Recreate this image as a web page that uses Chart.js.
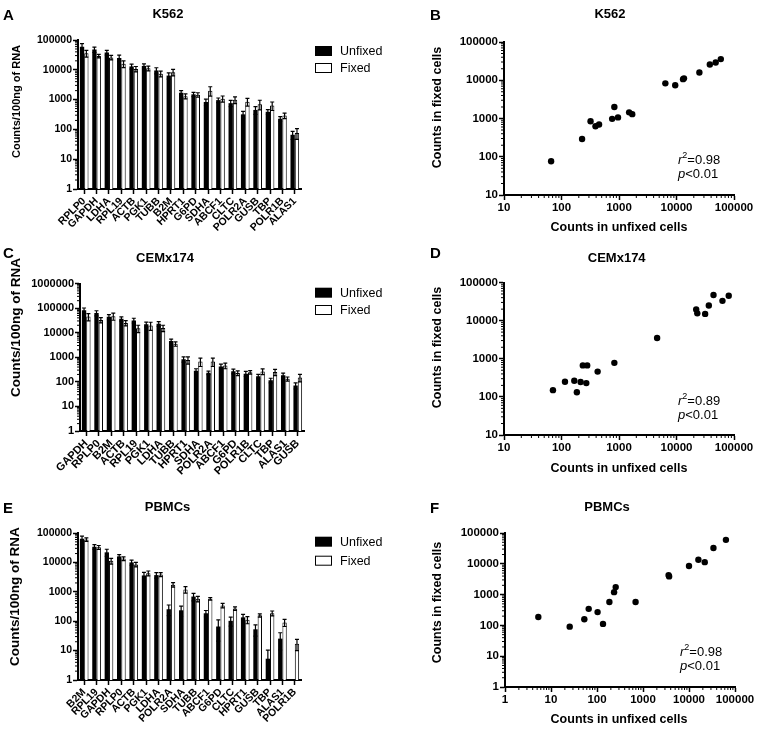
<!DOCTYPE html>
<html>
<head>
<meta charset="utf-8">
<script src="https://cdn.jsdelivr.net/npm/chart.js@4.4.0/dist/chart.umd.min.js"></script>
<style>
html, body { margin: 0; padding: 0; background: #fff; }
#fig { position: relative; width: 758px; height: 729px; overflow: hidden; }
#fig canvas { position: absolute; }
</style>
</head>
<body>
<div id="fig">
    <canvas id="chartA" width="392" height="240" style="left:0;top:0"></canvas>
    <canvas id="chartB" width="378" height="240" style="left:380px;top:0"></canvas>
    <canvas id="chartC" width="392" height="240" style="left:0;top:240px"></canvas>
    <canvas id="chartD" width="378" height="240" style="left:380px;top:240px"></canvas>
    <canvas id="chartE" width="392" height="249" style="left:0;top:480px"></canvas>
    <canvas id="chartF" width="378" height="249" style="left:380px;top:480px"></canvas>
</div>
<script>
// ---- data (counts / 100ng of RNA) ----
var seriesNames = ['Unfixed', 'Fixed'];

var genesK562 = ['RPLP0', 'GAPDH', 'LDHA', 'RPL19', 'ACTB', 'PGK1', 'TUBB', 'B2M', 'HPRT1', 'G6PD', 'SDHA', 'ABCF1', 'CLTC', 'POLR2A', 'GUSB', 'TBP', 'POLR1B', 'ALAS1'];
var unfixedK562 = [59000, 48000, 38000, 25000, 13000, 13500, 9500, 6400, 1700, 1500, 830, 960, 760, 320, 450, 390, 228, 66];
var fixedK562 = [35700, 29000, 25900, 15900, 10700, 11200, 7400, 8300, 1300, 1450, 2000, 1070, 980, 850, 700, 630, 290, 76];
var errUnfixedK562 = [17000, 10000, 7000, 6000, 2500, 2300, 2200, 1500, 300, 250, 200, 170, 180, 80, 130, 70, 40, 20];
var errFixedK562 = [9000, 4000, 4500, 4000, 2200, 2000, 1600, 2000, 250, 250, 700, 250, 250, 250, 250, 200, 60, 30];

var genesCEM = ['GAPDH', 'RPLP0', 'B2M', 'ACTB', 'RPL19', 'PGK1', 'LDHA', 'TUBB', 'HPRT1', 'SDHA', 'POLR2A', 'ABCF1', 'G6PD', 'POLR1B', 'CLTC', 'TBP', 'ALAS1', 'GUSB'];
var unfixedCEM = [81000, 63000, 44000, 36500, 31500, 22000, 23000, 4600, 830, 280, 235, 425, 270, 215, 167, 115, 185, 71];
var fixedCEM = [45000, 33000, 47000, 25000, 15000, 19500, 15500, 3500, 780, 670, 670, 460, 230, 245, 265, 250, 132, 150];
var errUnfixedCEM = [20000, 15000, 10000, 7000, 7000, 5000, 5000, 900, 200, 60, 40, 100, 60, 50, 35, 25, 40, 20];
var errFixedCEM = [15000, 8000, 15000, 6000, 5000, 7000, 4500, 700, 250, 250, 250, 120, 50, 40, 70, 70, 25, 50];

var genesPBMC = ['B2M', 'RPL19', 'GAPDH', 'RPLP0', 'ACTB', 'PGK1', 'LDHA', 'POLR2A', 'SDHA', 'TUBB', 'ABCF1', 'G6PD', 'CLTC', 'HPRT1', 'GUSB', 'TBP', 'ALAS1', 'POLR1B'];
var unfixedPBMC = [63500, 34000, 22000, 16000, 10000, 3600, 3700, 255, 235, 690, 186, 66, 103, 135, 53, 5.3, 25.5, null];
var fixedPBMC = [60000, 32500, 11300, 13500, 8500, 4300, 3900, 1750, 1200, 575, 575, 345, 270, 112, 158, 187, 91, 17];
var errUnfixedPBMC = [15000, 6000, 6000, 2500, 2000, 1000, 800, 100, 90, 200, 45, 45, 35, 35, 22, 5, 15, null];
var errFixedPBMC = [8000, 5000, 2500, 2000, 1500, 800, 600, 300, 300, 120, 60, 60, 35, 30, 20, 35, 25, 7];

var ticksK562 = [1, 10, 100, 1000, 10000, 100000];
var ticksCEM = [1, 10, 100, 1000, 10000, 100000, 1000000];
var ticksPBMC = [1, 10, 100, 1000, 10000, 100000];
var ticksFrom10 = [10, 100, 1000, 10000, 100000];
var ticksFrom1 = [1, 10, 100, 1000, 10000, 100000];

var r2Values = ['0.98', '0.89', '0.98'];
var pValues = ['0.01', '0.01', '0.01'];

// ---- drawing ----
var FONT = "'Liberation Sans', Arial, Helvetica, sans-serif";
Chart.defaults.font.family = FONT;
Chart.defaults.color = '#000';
Chart.defaults.animation = false;

// minor ticks on log axes
var minorTicks = {
    id: 'minorTicks',
    afterDraw: function (chart) {
        var ctx = chart.ctx, area = chart.chartArea;
        ctx.save();
        ctx.strokeStyle = '#000';
        ctx.lineWidth = 1;
        Object.values(chart.scales).forEach(function (s) {
            if (s.type !== 'logarithmic') return;
            for (var d = s.min; d < s.max; d *= 10) {
                for (var k = 2; k < 10; k++) {
                    var p = s.getPixelForValue(d * k);
                    ctx.beginPath();
                    if (s.isHorizontal()) {
                        ctx.moveTo(p, area.bottom);
                        ctx.lineTo(p, area.bottom + 3);
                    } else {
                        ctx.moveTo(area.left, p);
                        ctx.lineTo(area.left - 3, p);
                    }
                    ctx.stroke();
                }
            }
        });
        ctx.restore();
    }
};

var errorBars = {
    id: 'errorBars',
    afterDatasetsDraw: function (chart) {
        var ctx = chart.ctx, yScale = chart.scales.y;
        ctx.save();
        ctx.strokeStyle = '#000';
        ctx.lineWidth = 1.2;
        chart.data.datasets.forEach(function (ds, i) {
            if (!ds.errors) return;
            chart.getDatasetMeta(i).data.forEach(function (bar, j) {
                var v = ds.data[j], e = ds.errors[j];
                if (v == null || e == null) return;
                var top = yScale.getPixelForValue(v + e);
                var low = yScale.getPixelForValue(Math.max(v - e, yScale.min));
                var x = bar.x, c = 2;
                ctx.beginPath();
                ctx.moveTo(x, top); ctx.lineTo(x, low);
                ctx.moveTo(x - c, top); ctx.lineTo(x + c, top);
                ctx.moveTo(x - c, low); ctx.lineTo(x + c, low);
                ctx.stroke();
            });
        });
        ctx.restore();
    }
};

// panel letter, titles, legend and stats
var panelText = {
    id: 'panelText',
    afterDraw: function (chart, args, o) {
        var ctx = chart.ctx;
        ctx.save();
        ctx.fillStyle = '#000';
        ctx.textAlign = 'left';
        ctx.textBaseline = 'alphabetic';
        ctx.font = 'bold 15px ' + FONT;
        ctx.fillText(o.letter, o.letterX, o.letterY);

        ctx.textAlign = 'center';
        ctx.textBaseline = 'middle';
        ctx.font = 'bold 13px ' + FONT;
        ctx.fillText(o.title, o.titleX, o.titleY);

        ctx.save();
        ctx.translate(o.yTitleX, o.yTitleY);
        ctx.rotate(-Math.PI / 2);
        ctx.font = 'bold ' + o.yTitleSize + 'px ' + FONT;
        ctx.fillText(o.yTitle, 0, 0);
        ctx.restore();

        if (o.xTitle) {
            ctx.font = 'bold 12.5px ' + FONT;
            ctx.fillText(o.xTitle, o.xTitleX, o.xTitleY);
        }

        if (o.legend) {
            ctx.textAlign = 'left';
            ctx.font = '12.5px ' + FONT;
            ctx.fillRect(o.legendX, o.legendY1, 17, 10);
            ctx.fillStyle = '#fff';
            ctx.fillRect(o.legendX, o.legendY2, 17, 10);
            ctx.strokeStyle = '#000';
            ctx.lineWidth = 1;
            ctx.strokeRect(o.legendX + 0.5, o.legendY2 + 0.5, 16, 9);
            ctx.fillStyle = '#000';
            ctx.fillText(seriesNames[0], o.legendX + 25, o.legendY1 + 5.5);
            ctx.fillText(seriesNames[1], o.legendX + 25, o.legendY2 + 5.5);
        }

        if (o.r2) {
            ctx.textAlign = 'left';
            var x = o.statX;
            ctx.font = 'italic 13px ' + FONT;
            ctx.fillText('r', x, o.statY1);
            x += ctx.measureText('r').width;
            ctx.font = '9px ' + FONT;
            ctx.fillText('2', x, o.statY1 - 4);
            x += ctx.measureText('2').width;
            ctx.font = '13px ' + FONT;
            ctx.fillText('=' + o.r2, x, o.statY1);
            x = o.statX;
            ctx.font = 'italic 13px ' + FONT;
            ctx.fillText('p', x, o.statY2);
            x += ctx.measureText('p').width;
            ctx.font = '13px ' + FONT;
            ctx.fillText('<' + o.p, x, o.statY2);
        }
        ctx.restore();
    }
};

function axisStyle(size) {
    return {
        grid: { display: true, drawOnChartArea: false, offset: false, tickLength: 5, tickWidth: 1.5, tickColor: '#000' },
        border: { display: true, color: '#000', width: 2 },
        ticks: { padding: 1, color: '#000', font: { size: size, weight: 'bold' } }
    };
}

function logAxis(tickValues, size, extra) {
    var a = axisStyle(size);
    a.type = 'logarithmic';
    a.min = tickValues[0];
    a.max = tickValues[tickValues.length - 1];
    a.afterBuildTicks = function (s) {
        s.ticks = tickValues.map(function (v) { return { value: v }; });
    };
    a.ticks.callback = function (v) { return String(v); };
    return Object.assign(a, extra);
}

function barChart(id, genes, unfixed, fixed, errU, errF, yTicks, area, text) {
    var canvas = document.getElementById(id);
    var x = axisStyle(text.tickSize);
    x.ticks.autoSkip = false;
    x.ticks.minRotation = 45;
    x.ticks.maxRotation = 45;
    x.afterFit = function (s) { s.height = canvas.height - area.bottom; };
    var y = logAxis(yTicks, text.tickSize, {
        afterFit: function (s) { s.width = area.left; }
    });
    return new Chart(canvas, {
        type: 'bar',
        data: {
            labels: genes,
            datasets: [
                { label: seriesNames[0], data: unfixed, errors: errU, backgroundColor: '#000', borderWidth: 0 },
                { label: seriesNames[1], data: fixed, errors: errF, backgroundColor: '#fff', borderColor: '#000', borderWidth: 1 }
            ]
        },
        options: {
            responsive: false,
            events: [],
            layout: { padding: { top: area.top, right: canvas.width - area.right, bottom: 0, left: 0 } },
            datasets: { bar: { categoryPercentage: 0.7, barPercentage: 1 } },
            scales: { x: x, y: y },
            plugins: { legend: { display: false }, tooltip: { enabled: false }, panelText: text }
        },
        plugins: [errorBars, minorTicks, panelText]
    });
}

function scatterChart(id, unfixed, fixed, xTicks, yTicks, area, text) {
    var canvas = document.getElementById(id);
    var points = [];
    for (var i = 0; i < unfixed.length; i++) {
        if (unfixed[i] != null && fixed[i] != null) points.push({ x: unfixed[i], y: fixed[i] });
    }
    return new Chart(canvas, {
        type: 'scatter',
        data: {
            datasets: [{ data: points, pointRadius: 3.2, backgroundColor: '#000', borderWidth: 0 }]
        },
        options: {
            responsive: false,
            events: [],
            layout: { padding: { top: area.top, right: canvas.width - area.right, bottom: 0, left: 0 } },
            scales: {
                x: logAxis(xTicks, 11.5, { afterFit: function (s) { s.height = canvas.height - area.bottom; } }),
                y: logAxis(yTicks, 11.5, { afterFit: function (s) { s.width = area.left; } })
            },
            plugins: { legend: { display: false }, tooltip: { enabled: false }, panelText: text }
        },
        plugins: [minorTicks, panelText]
    });
}

barChart('chartA', genesK562, unfixedK562, fixedK562, errUnfixedK562, errFixedK562, ticksK562,
    { left: 78, right: 301, top: 40, bottom: 189 },
    { tickSize: 10.5, letter: 'A', letterX: 3, letterY: 19.5, title: 'K562', titleX: 168, titleY: 14,
      yTitle: 'Counts/100ng of RNA', yTitleX: 16.5, yTitleY: 101.5, yTitleSize: 11,
      legend: true, legendX: 315, legendY1: 46, legendY2: 63 });

scatterChart('chartB', unfixedK562, fixedK562, ticksFrom10, ticksFrom10,
    { left: 124, right: 354, top: 42, bottom: 195 },
    { letter: 'B', letterX: 50, letterY: 19.5, title: 'K562', titleX: 230, titleY: 14.5,
      yTitle: 'Counts in fixed cells', yTitleX: 58, yTitleY: 107.5, yTitleSize: 12.5,
      xTitle: 'Counts in unfixed cells', xTitleX: 239, xTitleY: 227.5,
      r2: r2Values[0], p: pValues[0], statX: 298, statY1: 160, statY2: 174 });

barChart('chartC', genesCEM, unfixedCEM, fixedCEM, errUnfixedCEM, errFixedCEM, ticksCEM,
    { left: 80, right: 304, top: 43.5, bottom: 191 },
    { tickSize: 11, letter: 'C', letterX: 3, letterY: 17.5, title: 'CEMx174', titleX: 165, titleY: 18.7,
      yTitle: 'Counts/100ng of RNA', yTitleX: 16, yTitleY: 87.5, yTitleSize: 13.5,
      legend: true, legendX: 315, legendY1: 47.7, legendY2: 65 });

scatterChart('chartD', unfixedCEM, fixedCEM, ticksFrom10, ticksFrom10,
    { left: 124, right: 354, top: 42.5, bottom: 195 },
    { letter: 'D', letterX: 50, letterY: 17.5, title: 'CEMx174', titleX: 236.7, titleY: 18.7,
      yTitle: 'Counts in fixed cells', yTitleX: 58, yTitleY: 107.5, yTitleSize: 12.5,
      xTitle: 'Counts in unfixed cells', xTitleX: 239, xTitleY: 229,
      r2: r2Values[1], p: pValues[1], statX: 298, statY1: 161, statY2: 175.5 });

barChart('chartE', genesPBMC, unfixedPBMC, fixedPBMC, errUnfixedPBMC, errFixedPBMC, ticksPBMC,
    { left: 78, right: 301, top: 53, bottom: 200 },
    { tickSize: 10.5, letter: 'E', letterX: 3, letterY: 32.5, title: 'PBMCs', titleX: 167.5, titleY: 27,
      yTitle: 'Counts/100ng of RNA', yTitleX: 15, yTitleY: 116.7, yTitleSize: 13.5,
      legend: true, legendX: 315, legendY1: 56.7, legendY2: 75.7 });

scatterChart('chartF', unfixedPBMC, fixedPBMC, ticksFrom1, ticksFrom1,
    { left: 125, right: 355, top: 53, bottom: 207 },
    { letter: 'F', letterX: 50, letterY: 32.5, title: 'PBMCs', titleX: 227, titleY: 27,
      yTitle: 'Counts in fixed cells', yTitleX: 58, yTitleY: 122.5, yTitleSize: 12.5,
      xTitle: 'Counts in unfixed cells', xTitleX: 239, xTitleY: 239.5,
      r2: r2Values[2], p: pValues[2], statX: 300, statY1: 172, statY2: 186 });
</script>
</body>
</html>
